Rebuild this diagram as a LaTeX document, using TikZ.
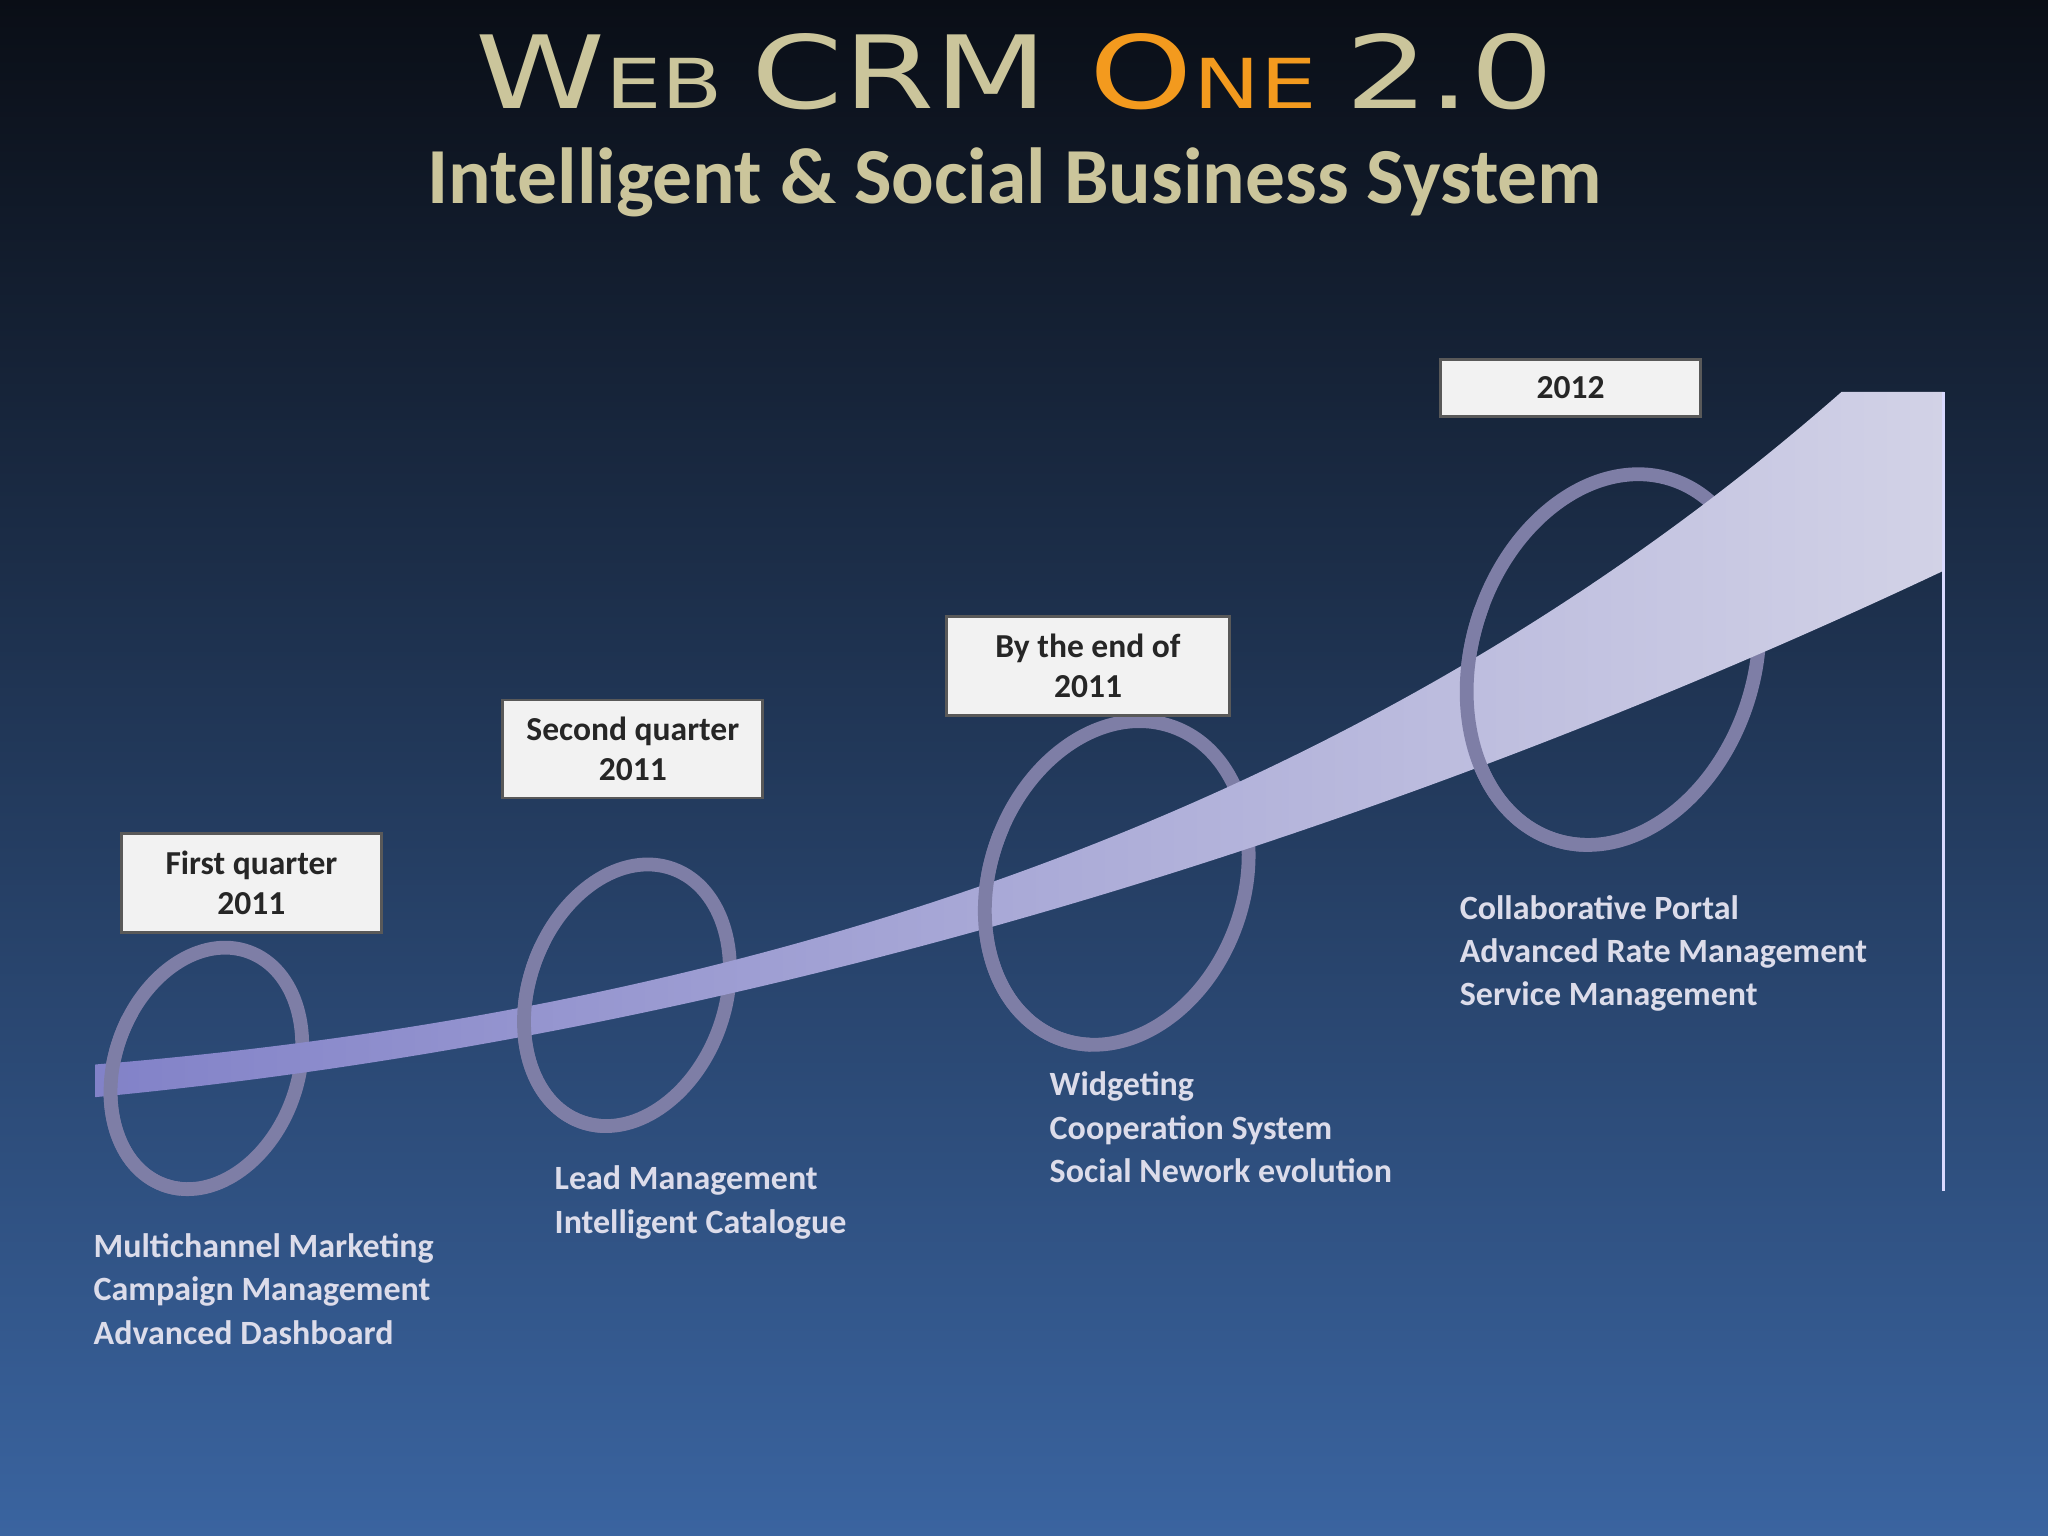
\documentclass[tikz,border=0pt]{standalone}
\usepackage{fontspec}
\setmainfont{Carlito}
\newfontfamily\titlefont{DejaVu Sans}
\definecolor{khaki}{HTML}{CBC59B}
\definecolor{orng}{HTML}{F39A1E}
\definecolor{ringc}{HTML}{7E7EA6}
\definecolor{ribc}{HTML}{B4B4D6}
\definecolor{txt}{HTML}{DCDCEA}
\tikzset{
 datebox/.style={draw=gray!70!black,fill=gray!10,line width=0.6pt,align=center,font=\bfseries\fontsize{7.3}{8.8}\selectfont,text=black!85,inner sep=0},
 ring/.style={draw=ringc,line width=3pt},
 feat/.style={anchor=north west,align=left,font=\bfseries\fontsize{7.4}{9.4}\selectfont,text=txt,inner sep=0}
}
\begin{document}
\begin{tikzpicture}[x=0.01cm,y=-0.01cm]
\useasboundingbox (0,0) rectangle (1568,1176);
\shade[top color={rgb,255:red,10;green,14;blue,22},middle color={rgb,255:red,36;green,60;blue,100},bottom color={rgb,255:red,58;green,100;blue,160}] (0,0) rectangle (1568,1176);
% title
\node[xscale=1.3] (t1) at (777,55) {\titlefont\color{khaki}\fontsize{22}{24}\selectfont W\fontsize{15}{16}\selectfont EB \fontsize{22}{24}\selectfont CRM \color{orng}O\fontsize{15}{16}\selectfont NE \color{khaki}\fontsize{22}{24}\selectfont 2.0};
\node (t2) at (777,140) {\bfseries\color{khaki}\fontsize{17.3}{19}\selectfont Intelligent \& Social Business System};
% rings back
\foreach \n/\cx/\cy/\rx/\ry/\r in {r1/158/818/70/95/-20, r2/480/762/75/103/-20, r3/855/676/97/127/-20, r4/1235/505/108/145/-18}{
  \draw[ring] (\cx,\cy) ellipse[x radius=\rx, y radius=\ry, rotate=\r];
}
% ribbon
\shade[left color=ribc!80!blue!90!black,right color=ribc!60!white] (73,815) .. controls (500,780) and (1000,660) .. (1410,300) -- (1488,300) -- (1488,437) .. controls (1100,620) and (600,790) .. (73,840) -- cycle;
\draw[white!85!blue,line width=0.8pt] (1488,300) -- (1488,912);
% rings front (left halves)
\foreach \n/\cx/\cy/\rx/\ry/\r in {r1/158/818/70/95/-20, r2/480/762/75/103/-20, r3/855/676/97/127/-20, r4/1235/505/108/145/-18}{
  \begin{scope}
  \clip (\cx-220,\cy-40) rectangle (\cx-20,\cy+220);
  \draw[ring] (\cx,\cy) ellipse[x radius=\rx, y radius=\ry, rotate=\r];
  \end{scope}
}
% date boxes
\node[datebox,minimum width=1.99cm,minimum height=0.76cm] (b1) at (192.5,676) {First quarter\\2011};
\node[datebox,minimum width=1.99cm,minimum height=0.75cm] (b2) at (484.5,573.5) {Second quarter\\2011};
\node[datebox,minimum width=2.16cm,minimum height=0.76cm] (b3) at (833,510) {By the end of\\2011};
\node[datebox,minimum width=1.99cm,minimum height=0.44cm] (b4) at (1202.5,297) {2012};
% features
\node[feat] (f1) at (71,944) {Multichannel Marketing\\Campaign Management\\Advanced Dashboard};
\node[feat] (f2) at (424,892) {Lead Management\\Intelligent Catalogue};
\node[feat] (f3) at (803,820) {Widgeting\\Cooperation System\\Social Nework evolution};
\node[feat] (f4) at (1117,685) {Collaborative Portal\\Advanced Rate Management\\Service Management};
\end{tikzpicture}
\end{document}
